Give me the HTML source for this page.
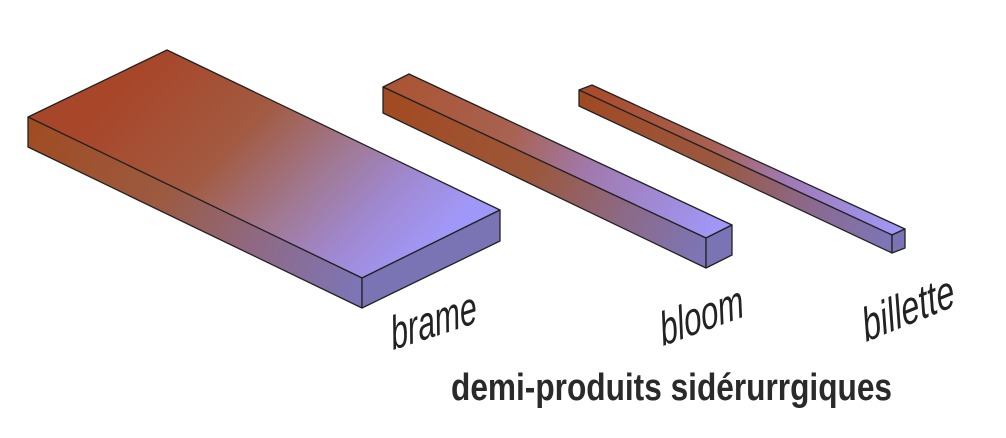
<!DOCTYPE html>
<html><head><meta charset="utf-8"><style>html,body{margin:0;padding:0;background:#fff}svg{display:block}</style></head>
<body>
<svg width="1006" height="438" viewBox="0 0 1006 438" xmlns="http://www.w3.org/2000/svg">
<defs>
<linearGradient id="gt" gradientUnits="userSpaceOnUse" x1="150" y1="60" x2="390" y2="290">
<stop offset="0" stop-color="#a8462a"/><stop offset="0.35" stop-color="#a25a40"/><stop offset="0.6" stop-color="#a07890"/><stop offset="0.8" stop-color="#a088d0"/><stop offset="1" stop-color="#a098f8"/></linearGradient>
<linearGradient id="gs" gradientUnits="userSpaceOnUse" x1="28" y1="130" x2="362" y2="295">
<stop offset="0" stop-color="#a04c22"/><stop offset="0.4" stop-color="#9c5a40"/><stop offset="0.7" stop-color="#8e6a88"/><stop offset="1" stop-color="#7c76b8"/></linearGradient>
<linearGradient id="bt" gradientUnits="userSpaceOnUse" x1="400" y1="80" x2="720" y2="230">
<stop offset="0" stop-color="#aa5535"/><stop offset="0.35" stop-color="#a86250"/><stop offset="0.6" stop-color="#a07ab0"/><stop offset="1" stop-color="#a098f8"/></linearGradient>
<linearGradient id="bs" gradientUnits="userSpaceOnUse" x1="383" y1="100" x2="706" y2="255">
<stop offset="0" stop-color="#a24a20"/><stop offset="0.45" stop-color="#9c5638"/><stop offset="0.75" stop-color="#8c6a88"/><stop offset="1" stop-color="#7c76b8"/></linearGradient>
<linearGradient id="ct" gradientUnits="userSpaceOnUse" x1="585" y1="88" x2="900" y2="232">
<stop offset="0" stop-color="#aa4a2a"/><stop offset="0.4" stop-color="#a86050"/><stop offset="0.65" stop-color="#a07ab8"/><stop offset="1" stop-color="#a098f8"/></linearGradient>
<linearGradient id="cs" gradientUnits="userSpaceOnUse" x1="579" y1="98" x2="892" y2="244">
<stop offset="0" stop-color="#a04a22"/><stop offset="0.45" stop-color="#9a5840"/><stop offset="0.75" stop-color="#8a6a90"/><stop offset="1" stop-color="#7c76b8"/></linearGradient>
</defs>
<g stroke="#222" stroke-width="1.3" stroke-linejoin="round">
<polygon points="28,117 167,50 500,210 362,278" fill="url(#gt)"/>
<polygon points="28,117 362,278 362,308 28,147" fill="url(#gs)"/>
<polygon points="362,278 500,210 500,241 362,308" fill="#7a74b4"/>
<polygon points="383,87 409,74 732,225 706,238" fill="url(#bt)"/>
<polygon points="383,87 706,238 706,268 383,113" fill="url(#bs)"/>
<polygon points="706,238 732,225 732,255 706,268" fill="#7a74b4"/>
<polygon points="579,90 592,85 905,229 892,235" fill="url(#ct)"/>
<polygon points="579,90 892,235 892,253 579,106" fill="url(#cs)"/>
<polygon points="892,235 905,229 905,248 892,253" fill="#7a74b4"/>
</g>
<g font-family="Liberation Sans, sans-serif" font-style="italic" fill="#222" font-size="46">
<text transform="translate(393,350) rotate(-18) skewX(-10)" textLength="90" lengthAdjust="spacingAndGlyphs">brame</text>
<text transform="translate(663,346) rotate(-20) skewX(-10)" textLength="88" lengthAdjust="spacingAndGlyphs">bloom</text>
<text transform="translate(866,342) rotate(-22) skewX(-10)" textLength="98" lengthAdjust="spacingAndGlyphs">billette</text>
</g>
<text x="451" y="400" font-family="Liberation Sans, sans-serif" font-weight="bold" font-size="38" fill="#2a2a2a" textLength="441" lengthAdjust="spacingAndGlyphs">demi-produits sidérurrgiques</text>
</svg>
</body></html>
